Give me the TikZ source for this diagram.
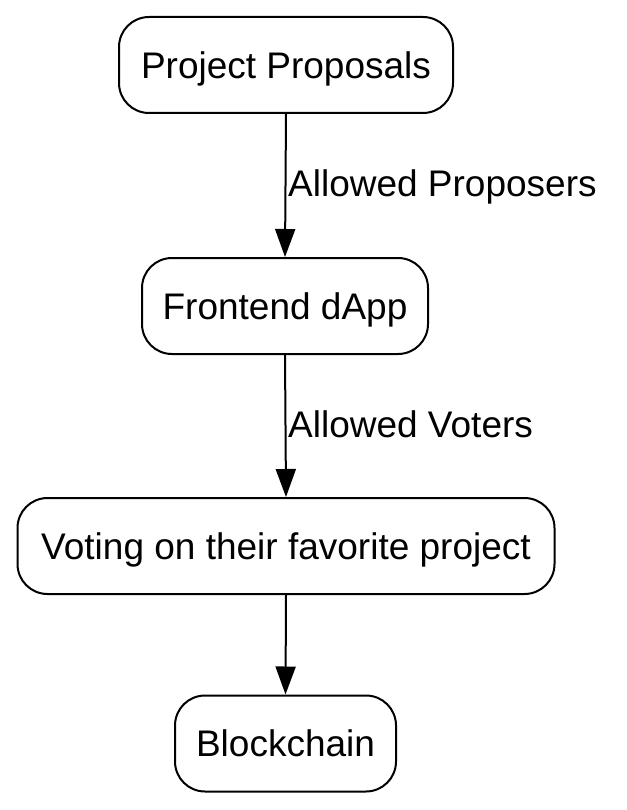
\documentclass[tikz,border=0pt]{standalone}
\usepackage{fontspec}
\setmainfont{Liberation Sans}
\usetikzlibrary{arrows.meta}
\begin{document}
\begin{tikzpicture}[x=1pt,y=-1pt,
  box/.style={draw=black,line width=2pt,rounded corners=30pt,inner sep=0pt,
    minimum height=96pt,font=\fontsize{37}{44}\selectfont,fill=white,
    text height=26.5pt,text depth=0pt},
  conn/.style={line width=2pt,-{Triangle[length=28pt,width=20pt]}},
  lbl/.style={anchor=base west,inner sep=0pt,font=\fontsize{37}{44}\selectfont}]
\useasboundingbox[fill=white] (0,0) rectangle (626,810);
\node[box,minimum width=334pt] (b1) at (286,65) {Project Proposals};
\node[box,minimum width=286pt] (b2) at (285,306) {Frontend dApp};
\node[box,minimum width=537pt] (b3) at (286,546) {Voting on their favorite project};
\node[box,minimum width=221pt] (b4) at (285.5,743.5) {Blockchain};
\draw[conn] (b1.south) -- (b2.north);
\draw[conn] (b2.south) -- (b3.north);
\draw[conn] (b3.south) -- (b4.north);
\node[lbl] (l1) at (288,197) {Allowed Proposers};
\node[lbl] (l2) at (288,437) {Allowed Voters};
\end{tikzpicture}
\end{document}
